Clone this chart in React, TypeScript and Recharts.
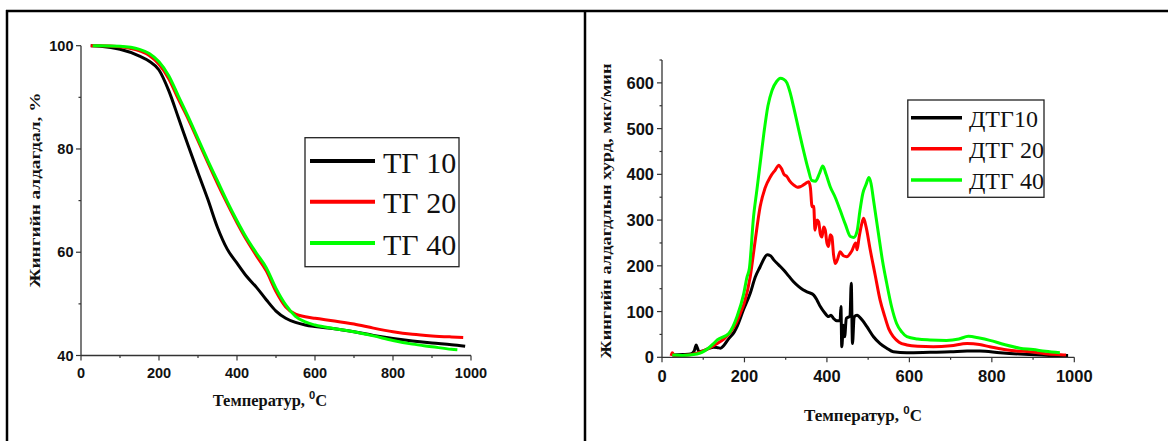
import React from 'react';
import { LineChart, Line, XAxis, YAxis } from 'recharts';

// shared axes
const tempTicks = [0, 100, 200, 300, 400, 500, 600, 700, 800, 900, 1000];
const tgTicks = [40, 50, 60, 70, 80, 90, 100];
const dtgTicks = [0, 50, 100, 150, 200, 250, 300, 350, 400, 450, 500, 550, 600, 650];

// TG curves (mass, %)
const tg10Temp = [25, 50, 100, 150, 175, 200, 225, 250, 275, 300, 325, 350, 375, 400, 425, 450, 475, 500, 525, 550, 575, 600, 650, 700, 750, 800, 850, 900, 950, 985];
const tg10Mass = [100, 99.9, 99.3, 98.0, 97.0, 95.3, 91.3, 86.0, 80.6, 75.4, 70.3, 64.8, 60.6, 57.9, 55.3, 53.2, 50.8, 48.6, 47.2, 46.4, 45.9, 45.6, 45.2, 44.6, 43.9, 43.3, 42.8, 42.4, 42.1, 41.8];
const tg20Temp = [25, 50, 100, 150, 175, 200, 225, 250, 275, 300, 325, 350, 375, 400, 425, 450, 475, 500, 525, 550, 575, 600, 650, 700, 750, 800, 850, 900, 950, 980];
const tg20Mass = [100, 100, 99.8, 99.0, 98.1, 96.4, 93.6, 89.6, 85.8, 81.6, 77.4, 73.3, 69.4, 65.7, 62.3, 59.3, 56.4, 52.4, 49.4, 48.0, 47.5, 47.2, 46.7, 46.1, 45.3, 44.6, 44.1, 43.8, 43.6, 43.5];
const tg40Temp = [30, 50, 100, 150, 175, 200, 225, 250, 275, 300, 325, 350, 375, 400, 425, 450, 475, 500, 525, 550, 575, 600, 650, 700, 750, 800, 850, 900, 950, 965];
const tg40Mass = [100, 100, 99.9, 99.3, 98.5, 96.9, 94.2, 90.2, 86.2, 82.0, 77.8, 73.8, 69.8, 66.1, 62.7, 59.8, 57.0, 53.0, 49.8, 47.6, 46.5, 45.9, 45.2, 44.6, 43.8, 42.9, 42.2, 41.7, 41.2, 41.1];

// DTG curves (rate, мкг/мин)
const dtg10Temp = [25, 50, 69, 78, 83, 86, 90, 100, 115, 125, 135, 142, 150, 162, 175, 182, 198, 214, 226, 238, 247, 255, 263, 271, 283, 295, 307, 319, 331, 343, 355, 368, 376, 384, 394, 404, 410, 416, 424, 432, 434, 436, 440, 443, 447, 456, 459, 462, 466, 473, 485, 497, 513, 529, 545, 561, 594, 650, 700, 740, 771, 820, 868, 920, 960, 985];
const dtg10Rate = [5, 6, 7, 14, 27, 20, 12, 14, 20, 22, 21, 20, 26, 41, 55, 67, 105, 140, 175, 198, 215, 224, 222, 213, 202, 191, 178, 165, 155, 147, 142, 136, 125, 111, 98, 89, 92, 85, 80, 80, 111, 23, 70, 45, 85, 90, 162, 30, 88, 92, 82, 67, 45, 30, 20, 12, 10, 11, 12, 14, 14, 10, 7, 5, 4, 4];
const dtg20Temp = [22, 25, 30, 50, 85, 110, 134, 150, 166, 180, 190, 200, 214, 226, 238, 250, 263, 275, 283, 290, 296, 303, 310, 319, 328, 335, 345, 356, 360, 364, 368, 371, 376, 380, 384, 388, 392, 396, 400, 404, 408, 412, 416, 420, 426, 432, 440, 448, 460, 470, 473, 478, 484, 489, 495, 505, 517, 529, 540, 550, 561, 575, 594, 620, 658, 700, 740, 770, 795, 830, 860, 892, 930, 960, 980];
const dtg20Rate = [3, 10, 4, 4, 9, 18, 30, 40, 55, 75, 96, 120, 176, 255, 329, 370, 395, 410, 420, 412, 400, 395, 385, 377, 372, 373, 378, 384, 370, 329, 330, 278, 300, 296, 270, 263, 285, 278, 250, 242, 268, 264, 225, 205, 215, 231, 222, 220, 232, 250, 235, 262, 290, 304, 285, 235, 180, 125, 90, 62, 45, 33, 27, 24, 23, 25, 30, 28, 23, 17, 14, 12, 8, 6, 5];
const dtg40Temp = [25, 50, 85, 110, 125, 134, 162, 182, 198, 206, 212, 222, 230, 240, 247, 257, 267, 278, 287, 295, 303, 311, 319, 331, 343, 355, 363, 372, 382, 390, 398, 408, 420, 432, 445, 457, 465, 473, 480, 487, 495, 502, 507, 513, 525, 535, 545, 557, 569, 582, 594, 620, 650, 690, 720, 743, 770, 795, 830, 868, 900, 930, 965];
const dtg40Rate = [5, 4, 7, 18, 30, 38, 52, 89, 138, 175, 195, 307, 365, 438, 489, 550, 584, 603, 610, 608, 600, 578, 548, 500, 453, 410, 387, 385, 402, 418, 400, 373, 350, 322, 290, 264, 262, 275, 320, 358, 378, 393, 380, 344, 270, 210, 162, 110, 74, 55, 45, 40, 38, 37, 40, 46, 42, 37, 28, 20, 17, 13, 10];

const tgNames = ['ТГ 10', 'ТГ 20', 'ТГ 40'];
const dtgNames = ['ДТГ10', 'ДТГ 20', 'ДТГ 40'];
const colors = ['#000000', '#ff0000', '#00ff00'];

const zip = (ts: number[], vs: number[]) => ts.map((t, i) => ({ t, v: vs[i] }));

const tgSeries = [zip(tg10Temp, tg10Mass), zip(tg20Temp, tg20Mass), zip(tg40Temp, tg40Mass)];
const dtgSeries = [zip(dtg10Temp, dtg10Rate), zip(dtg20Temp, dtg20Rate), zip(dtg40Temp, dtg40Rate)];

const AXIS = '#333';
const SANS = 'Liberation Sans, Arial, sans-serif';
const SERIF = 'Liberation Serif, Times New Roman, serif';

// tick with origin-style minor marks: label only on majors
function leftTick(majorEvery: number, fontSize: number, gap: number) {
  return (props: any) => {
    const { x, y, payload } = props;
    const major = payload.value % majorEvery === 0;
    return (
      <g>
        <line x1={x} x2={x - (major ? 5 : 2.5)} y1={y} y2={y} stroke={AXIS} strokeWidth={1.2} />
        {major && (
          <text x={x - gap} y={y} textAnchor="end" dominantBaseline="central" fontFamily={SANS} fontWeight="bold" fontSize={fontSize} fill="#111">
            {payload.value}
          </text>
        )}
      </g>
    );
  };
}

function bottomTick(majorEvery: number, fontSize: number, gap: number) {
  return (props: any) => {
    const { x, y, payload } = props;
    const major = payload.value % majorEvery === 0;
    return (
      <g>
        <line x1={x} x2={x} y1={y} y2={y + (major ? 5 : 2.5)} stroke={AXIS} strokeWidth={1.2} />
        {major && (
          <text x={x} y={y + gap} textAnchor="middle" dominantBaseline="central" fontFamily={SANS} fontWeight="bold" fontSize={fontSize} fill="#111">
            {payload.value}
          </text>
        )}
      </g>
    );
  };
}

function TempTitle({ x, y, size }: { x: number; y: number; size: number }) {
  return (
    <text x={x} y={y} textAnchor="middle" fontFamily={SERIF} fontWeight="bold" fontSize={size} fill="#111">
      Температур,{' '}
      <tspan dy={-7} fontSize={size * 0.68} fontFamily={SANS}>0</tspan>
      <tspan dy={7}>C</tspan>
    </text>
  );
}

export default function App() {
  return (
    <div style={{ position: 'absolute', left: 0, top: 0, width: 1168, height: 441, background: '#fff' }}>
      <div style={{ position: 'absolute', left: 0, top: 0 }}>
        <LineChart width={585} height={441} margin={{ top: 45.7, right: 114, bottom: 55.5, left: 21 }}>
          <XAxis
            dataKey="t"
            type="number"
            domain={[0, 1000]}
            ticks={tempTicks}
            interval={0}
            height={30}
            tickSize={0}
            tickMargin={0}
            axisLine={{ stroke: AXIS, strokeWidth: 1.3 }}
            tickLine={false}
            tick={bottomTick(200, 14.5, 17.5)}
          />
          <YAxis
            type="number"
            domain={[40, 100]}
            ticks={tgTicks}
            interval={0}
            width={60}
            tickSize={0}
            tickMargin={0}
            axisLine={{ stroke: AXIS, strokeWidth: 1.3 }}
            tickLine={false}
            tick={leftTick(20, 14.5, 7.5)}
          />
          {tgSeries.map((d, i) => (
            <Line key={tgNames[i]} data={d} dataKey="v" name={tgNames[i]} type="monotone" stroke={colors[i]} strokeWidth={3} dot={false} isAnimationActive={false} />
          ))}
        </LineChart>
      </div>
      <div style={{ position: 'absolute', left: 585, top: 0 }}>
        <LineChart width={583} height={441} margin={{ top: 60, right: 93.7, bottom: 53.7, left: 17 }}>
          <XAxis
            dataKey="t"
            type="number"
            domain={[0, 1000]}
            ticks={tempTicks}
            interval={0}
            height={30}
            tickSize={0}
            tickMargin={0}
            axisLine={{ stroke: AXIS, strokeWidth: 1.3 }}
            tickLine={false}
            tick={bottomTick(200, 16.5, 19)}
          />
          <YAxis
            type="number"
            domain={[0, 650]}
            ticks={dtgTicks}
            interval={0}
            width={60}
            tickSize={0}
            tickMargin={0}
            axisLine={{ stroke: AXIS, strokeWidth: 1.3 }}
            tickLine={false}
            tick={leftTick(100, 16.5, 8)}
          />
          {dtgSeries.map((d, i) => (
            <Line key={dtgNames[i]} data={d} dataKey="v" name={dtgNames[i]} type="monotone" stroke={colors[i]} strokeWidth={3} dot={false} isAnimationActive={false} />
          ))}
        </LineChart>
      </div>

      {/* frame, titles, legends */}
      <svg width={1168} height={441} style={{ position: 'absolute', left: 0, top: 0, pointerEvents: 'none' }}>
        <line x1={6} x2={1168} y1={11} y2={11} stroke="#000" strokeWidth={2.5} />
        <line x1={7} x2={7} y1={10} y2={441} stroke="#000" strokeWidth={2.5} />
        <line x1={585} x2={585} y1={10} y2={441} stroke="#000" strokeWidth={2.5} />

        <text transform="translate(40,190) rotate(-90)" textAnchor="middle" fontFamily={SERIF} fontWeight="bold" fontSize={15} fill="#111" textLength={195} lengthAdjust="spacingAndGlyphs">
          Жингийн алдагдал, %
        </text>
        <text transform="translate(611,211) rotate(-90)" textAnchor="middle" fontFamily={SERIF} fontWeight="bold" fontSize={15} fill="#111" textLength={295} lengthAdjust="spacingAndGlyphs">
          Жингийн алдагдлын хурд, мкг/мин
        </text>
        <TempTitle x={270} y={406} size={16.5} />
        <TempTitle x={863} y={421} size={17} />

        <rect x={305} y={137.7} width={154} height={129} fill="#fff" stroke="#222" strokeWidth={1.3} />
        {tgNames.map((n, i) => {
          const y = [161, 201.7, 243][i];
          return (
            <g key={n}>
              <line x1={310} x2={375} y1={y} y2={y} stroke={colors[i]} strokeWidth={4} />
              <text x={383} y={y + 11.5} fontFamily={SERIF} fontSize={30} fill="#111">{n}</text>
            </g>
          );
        })}

        <rect x={907.8} y={100} width={136.2} height={97.3} fill="#fff" stroke="#222" strokeWidth={1.3} />
        {dtgNames.map((n, i) => {
          const y = [117.7, 148.7, 180][i];
          return (
            <g key={n}>
              <line x1={911} x2={962} y1={y} y2={y} stroke={colors[i]} strokeWidth={3.5} />
              <text x={969} y={y + 9} fontFamily={SERIF} fontSize={24} fill="#111">{n}</text>
            </g>
          );
        })}
      </svg>
    </div>
  );
}
